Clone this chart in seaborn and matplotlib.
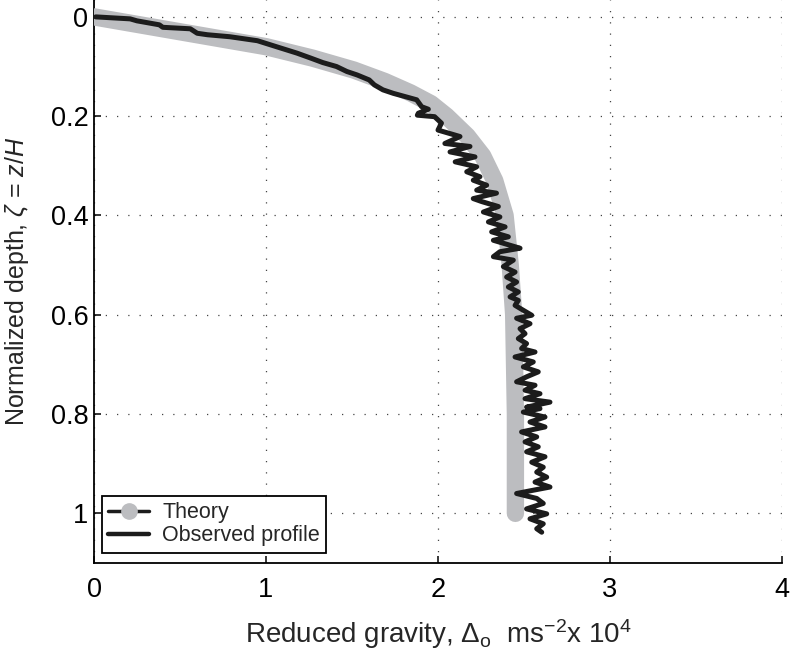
import numpy as np
import pandas as pd
import matplotlib
matplotlib.use("Agg")
import matplotlib.pyplot as plt
from matplotlib.lines import Line2D
from matplotlib.ticker import FixedLocator
import seaborn as sns

# ---------------- data ----------------
theory_depth = [0.0, 0.03, 0.06, 0.083, 0.107, 0.13, 0.153, 0.175, 0.2, 0.24,
                0.28, 0.33, 0.4, 0.5, 0.6, 0.8, 1.0]
theory_gravity = [0.0, 0.50, 1.00, 1.27, 1.51, 1.69, 1.84, 1.96, 2.05, 2.17,
                  2.26, 2.33, 2.39, 2.42, 2.44, 2.45, 2.45]

obs_depth = [0.000, 0.004, 0.008, 0.016, 0.021, 0.024, 0.033, 0.036, 0.040, 0.048,
             0.060, 0.073, 0.083, 0.092, 0.100, 0.110, 0.117, 0.127, 0.137, 0.147,
             0.154, 0.167, 0.181, 0.186, 0.194, 0.198, 0.201, 0.214, 0.228, 0.241,
             0.255, 0.261, 0.272, 0.282, 0.292, 0.302, 0.312, 0.322, 0.329, 0.339,
             0.349, 0.355, 0.366, 0.372, 0.382, 0.393, 0.403, 0.413, 0.423, 0.433,
             0.443, 0.450, 0.460, 0.466, 0.473, 0.483, 0.490, 0.503, 0.514, 0.524,
             0.534, 0.544, 0.554, 0.564, 0.571, 0.581, 0.591, 0.601, 0.607, 0.618,
             0.628, 0.638, 0.648, 0.658, 0.668, 0.675, 0.685, 0.695, 0.705, 0.715,
             0.725, 0.735, 0.742, 0.752, 0.759, 0.769, 0.776, 0.786, 0.789, 0.796,
             0.806, 0.816, 0.826, 0.836, 0.846, 0.856, 0.866, 0.876, 0.886, 0.897,
             0.907, 0.917, 0.927, 0.937, 0.947, 0.954, 0.960, 0.970, 0.980, 0.991,
             1.001, 1.011, 1.021, 1.031, 1.038]
obs_gravity = [0.01, 0.21, 0.25, 0.38, 0.40, 0.56, 0.60, 0.66, 0.79, 0.95,
               1.06, 1.18, 1.26, 1.33, 1.41, 1.47, 1.53, 1.60, 1.63, 1.68,
               1.74, 1.876, 1.905, 1.944, 1.886, 1.88, 1.98, 2.02, 2.00, 2.128,
               2.04, 2.186, 2.07, 2.215, 2.10, 2.225, 2.167, 2.244, 2.205, 2.283,
               2.225, 2.34, 2.205, 2.254, 2.351, 2.264, 2.36, 2.293, 2.39, 2.312,
               2.409, 2.322, 2.419, 2.477, 2.36, 2.322, 2.438, 2.38, 2.448, 2.399,
               2.457, 2.409, 2.467, 2.419, 2.467, 2.448, 2.496, 2.545, 2.457, 2.535,
               2.477, 2.506, 2.467, 2.515, 2.486, 2.564, 2.448, 2.554, 2.496, 2.583,
               2.515, 2.457, 2.564, 2.506, 2.593, 2.506, 2.651, 2.515, 2.593, 2.496,
               2.622, 2.535, 2.622, 2.486, 2.574, 2.506, 2.583, 2.515, 2.622, 2.545,
               2.612, 2.574, 2.632, 2.564, 2.651, 2.545, 2.457, 2.574, 2.612, 2.515,
               2.632, 2.535, 2.612, 2.574, 2.603]

x_ticks = [0, 1, 2, 3, 4]
x_tick_labels = ["0", "1", "2", "3", "4"]
y_ticks = [0, 0.2, 0.4, 0.6, 0.8, 1.0]
y_tick_labels = ["0", "0.2", "0.4", "0.6", "0.8", "1"]
series_names = ["Theory", "Observed profile"]

# ---------------- style ----------------
sns.set_style("white")
FONT = ["Liberation Sans", "DejaVu Sans"]
plt.rcParams["font.family"] = FONT
plt.rcParams["mathtext.fontset"] = "custom"
plt.rcParams["mathtext.rm"] = "Liberation Sans"
plt.rcParams["mathtext.it"] = "Liberation Sans:italic"
plt.rcParams["mathtext.bf"] = "Liberation Sans:bold"

GRAY = "#bcbdc0"
DARK = "#1c1c1c"

fig = plt.figure(figsize=(7.94, 6.53), dpi=100)
ax = fig.add_axes([94 / 794, 1 - 563 / 653, 688 / 794, 563 / 653])

theory = pd.DataFrame({"gravity": theory_gravity, "depth": theory_depth})
obs = pd.DataFrame({"gravity": obs_gravity, "depth": obs_depth})

sns.lineplot(data=theory, x="gravity", y="depth", sort=False, estimator=None,
             color=GRAY, linewidth=12.5, solid_capstyle="round",
             solid_joinstyle="round", ax=ax, legend=False, zorder=3)
sns.lineplot(data=obs, x="gravity", y="depth", sort=False, estimator=None,
             color=DARK, linewidth=3.6, solid_joinstyle="round",
             solid_capstyle="round", ax=ax, legend=False, zorder=4)

ax.set_xlim(0, 4)
ax.set_ylim(1.1, -0.034)

ax.xaxis.set_major_locator(FixedLocator(x_ticks))
ax.yaxis.set_major_locator(FixedLocator(y_ticks))
ax.set_xticklabels(x_tick_labels)
ax.set_yticklabels(y_tick_labels)

ax.grid(True, linestyle=(0, (1, 8)), color="#444444", linewidth=0.9)
ax.set_axisbelow(True)

for s in ["top", "right"]:
    ax.spines[s].set_visible(False)
for s in ["left", "bottom"]:
    ax.spines[s].set_color("black")
    ax.spines[s].set_linewidth(1.3)

ax.tick_params(axis="both", direction="in", length=5, width=1.1,
               labelsize=19.5, colors="black")
ax.tick_params(axis="x", pad=10)
ax.tick_params(axis="y", pad=4)
ax.tick_params(left=True, bottom=True)

ax.set_xlabel(r"Reduced gravity, $\Delta_{\mathrm{o}}$  ms$^{-2}$x 10$^{4}$",
              fontsize=20, labelpad=10)
ax.set_ylabel(r"Normalized depth, $\zeta$ = $z/H$", fontsize=18, labelpad=14)

handles = [
    Line2D([], [], color=DARK, linewidth=2.5,
           marker="o", markersize=11, markerfacecolor=GRAY,
           markeredgecolor=GRAY),
    Line2D([], [], color=DARK, linewidth=3.2),
]
leg = ax.legend(handles=handles, labels=series_names, loc="lower left",
                bbox_to_anchor=(0.0116, 0.018), borderaxespad=0,
                fontsize=15.5, frameon=True, fancybox=False, framealpha=1,
                edgecolor="black", handlelength=1.9, handletextpad=0.6,
                labelspacing=0.1, borderpad=0.3)
leg.get_frame().set_linewidth(1.3)

fig.savefig("out.png", dpi=100)
